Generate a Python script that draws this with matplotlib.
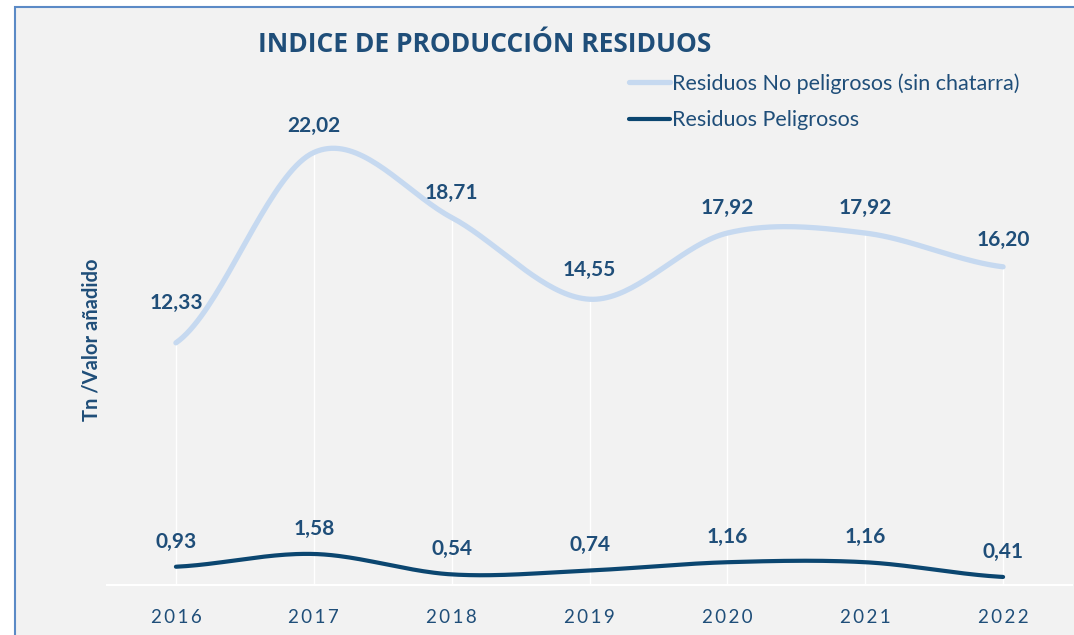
import matplotlib.pyplot as plt
import numpy as np
from matplotlib.patches import Rectangle

years = ['2016', '2017', '2018', '2019', '2020', '2021', '2022']
no_peligrosos = [12.33, 22.02, 18.71, 14.55, 17.92, 17.92, 16.20]
peligrosos = [0.93, 1.58, 0.54, 0.74, 1.16, 1.16, 0.41]
label_np = 'Residuos No peligrosos (sin chatarra)'
label_p = 'Residuos Peligrosos'

azul = '#1f4e79'
claro = '#c6d9f0'
oscuro = '#0b4670'
fondo = '#f2f2f2'

plt.rcParams['font.family'] = ['Lato', 'DejaVu Sans']


def suave(y, n=40):
    # curva suavizada tipo Excel (Catmull-Rom)
    y = np.asarray(y, dtype=float)
    m = np.zeros_like(y)
    m[1:-1] = (y[2:] - y[:-2]) / 2
    m[0] = (y[1] - y[0]) / 2
    m[-1] = (y[-1] - y[-2]) / 2
    xs, ys = [], []
    for i in range(len(y) - 1):
        t = np.linspace(0, 1, n)
        h00 = 2*t**3 - 3*t**2 + 1
        h10 = t**3 - 2*t**2 + t
        h01 = -2*t**3 + 3*t**2
        h11 = t**3 - t**2
        xs.append(i + t)
        ys.append(h00*y[i] + h10*m[i] + h01*y[i+1] + h11*m[i+1])
    return np.concatenate(xs), np.concatenate(ys)


fig = plt.figure(figsize=(10.74, 6.35), dpi=100)
fig.patch.set_facecolor('white')
# fondo del grafico con borde azul
fig.patches.append(Rectangle((15/1074, -0.05), 1.1, 1 - 7/635 + 0.05, transform=fig.transFigure,
                             facecolor=fondo, edgecolor='#5b8ac6', linewidth=1.5, zorder=-1))

ax = fig.add_axes([107/1074, 50/635, (1072-107)/1074, (585-39)/635])
ax.set_facecolor('none')
x = np.arange(len(years))

ax.vlines(x, 0, no_peligrosos, color='white', linewidth=1, zorder=1)

xs, ys = suave(no_peligrosos)
ax.plot(xs, ys, color=claro, linewidth=3.8, solid_capstyle='round', label=label_np, zorder=2)
xs, ys = suave(peligrosos)
ax.plot(xs, ys, color=oscuro, linewidth=3.0, solid_capstyle='round', label=label_p, zorder=3)

off_np = [40, 27, 25, 29, 25, 25, 27]
for i, v in enumerate(no_peligrosos):
    ax.annotate(f'{v:.2f}'.replace('.', ','), (x[i], v), xytext=(0, off_np[i]), textcoords='offset pixels',
                ha='center', va='center', fontsize=15, fontweight='bold', color=azul)
for i, v in enumerate(peligrosos):
    ax.annotate(f'{v:.2f}'.replace('.', ','), (x[i], v), xytext=(0, 25), textcoords='offset pixels',
                ha='center', va='center', fontsize=15, fontweight='bold', color=azul)

ax.set_xlim(-0.5, len(years) - 0.5)
ax.set_ylim(0, 27.8)
ax.set_xticks(x)
ax.set_xticklabels(['\u2009'.join(a) for a in years], fontsize=13.5, color=azul)
ax.tick_params(axis='x', length=0, pad=17)
ax.set_yticks([])
for s in ['top', 'right', 'left']:
    ax.spines[s].set_visible(False)
ax.spines['bottom'].set_color('white')
ax.spines['bottom'].set_linewidth(1.5)

fig.text(91/1074, 1 - 340/635, 'Tn /Valor añadido', rotation=90, ha='center', va='center',
         fontsize=14.5, fontweight='bold', color=azul)
fig.text(485/1074, 1 - 44/635, 'INDICE DE PRODUCCIÓN RESIDUOS', ha='center', va='center',
         fontsize=19, fontweight='bold', color=azul, family=['Open Sans', 'DejaVu Sans'])

leg = ax.legend(loc='upper left', bbox_to_anchor=(610/1074, 1 - 54/635), bbox_transform=fig.transFigure,
                frameon=False, fontsize=15.5, handlelength=1.9, handletextpad=0.1, labelspacing=0.75)
for t in leg.get_texts():
    t.set_color(azul)

fig.savefig('out.png', dpi=100)
